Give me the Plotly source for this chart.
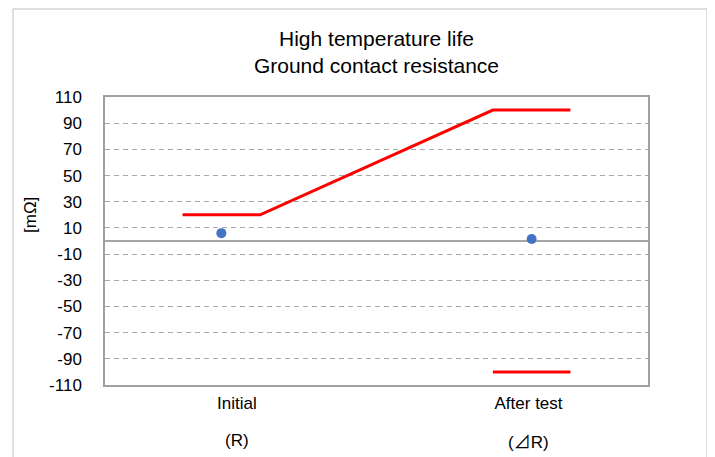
import plotly.graph_objects as go

# Data
categories = ["Initial", "After test"]
sub_labels = ["(R)", "(<span style='font-family:Noto Sans CJK JP'>⊿</span>R)"]
cat_pos = [1, 2]
label_pos = [1.05, 1.99]
measured = [6, 1.5]

upper_x = [0.875, 1.125, 1.875, 2.125]
upper_y = [20, 20, 100, 100]
lower_x = [1.875, 2.125]
lower_y = [-100, -100]

ytick_vals = list(range(-110, 111, 20))
ytick_text = [str(v) for v in ytick_vals]

FONT = "Liberation Sans, Arial, sans-serif"

# page has an 8px body margin; plot area in page px: x 105..648, y 97..385
OFF = 8
W, H = 707, 449

fig = go.Figure()
fig.add_trace(go.Scatter(x=upper_x, y=upper_y, mode="lines",
                         line=dict(color="#FF0000", width=3), showlegend=False, hoverinfo="skip"))
fig.add_trace(go.Scatter(x=lower_x, y=lower_y, mode="lines",
                         line=dict(color="#FF0000", width=3), showlegend=False, hoverinfo="skip"))
fig.add_trace(go.Scatter(x=cat_pos, y=measured, mode="markers",
                         marker=dict(color="#4472C4", size=10), showlegend=False))

fig.update_layout(
    width=W, height=H,
    margin=dict(l=105 - OFF, r=OFF + W - 648, t=97 - OFF, b=OFF + H - 385),
    paper_bgcolor="white", plot_bgcolor="white",
    font=dict(family=FONT, size=17, color="#000000"),
    title=dict(text="High temperature life<br>Ground contact resistance",
               x=((105 + 648) / 2 - OFF) / W, xanchor="center",
               y=1 - 38 / H, yanchor="middle",
               font=dict(family=FONT, size=21, color="#000000")),
)

fig.update_xaxes(range=[0.625, 2.375], tickvals=label_pos, ticktext=categories,
                 showgrid=False, zeroline=False, ticks="",
                 showline=True, linecolor="#A0A0A0", linewidth=1.5, mirror=True,
                 ticklabelstandoff=2, tickfont=dict(size=17))
fig.update_yaxes(range=[-110, 110], tickvals=ytick_vals, ticktext=ytick_text,
                 showgrid=True, gridcolor="#A8A8A8", griddash="5px,4px", gridwidth=1,
                 zeroline=True, zerolinecolor="#A6A6A6", zerolinewidth=1.5,
                 showline=True, linecolor="#A0A0A0", linewidth=1.5, mirror=True,
                 ticks="", ticklabelstandoff=18, tickfont=dict(size=17))

for xp, t in zip(label_pos, sub_labels):
    fig.add_annotation(x=xp, xref="x", y=(385 - 440) / 288, yref="paper",
                       text=t, showarrow=False, font=dict(size=17),
                       xanchor="center", yanchor="middle")

fig.add_annotation(x=(30 - 105) / 543, xref="paper", y=(385 - 215) / 288, yref="paper",
                   text="[mΩ]", textangle=-90, showarrow=False, font=dict(size=17),
                   xanchor="center", yanchor="middle")

fig.add_shape(type="rect", xref="paper", yref="paper",
              x0=(13 - 105) / 543, x1=(707 - 105) / 543,
              y0=(385 - 480) / 288, y1=(385 - 9) / 288,
              line=dict(color="#BFBFBF", width=1), layer="below")

fig.write_html("out.html")
